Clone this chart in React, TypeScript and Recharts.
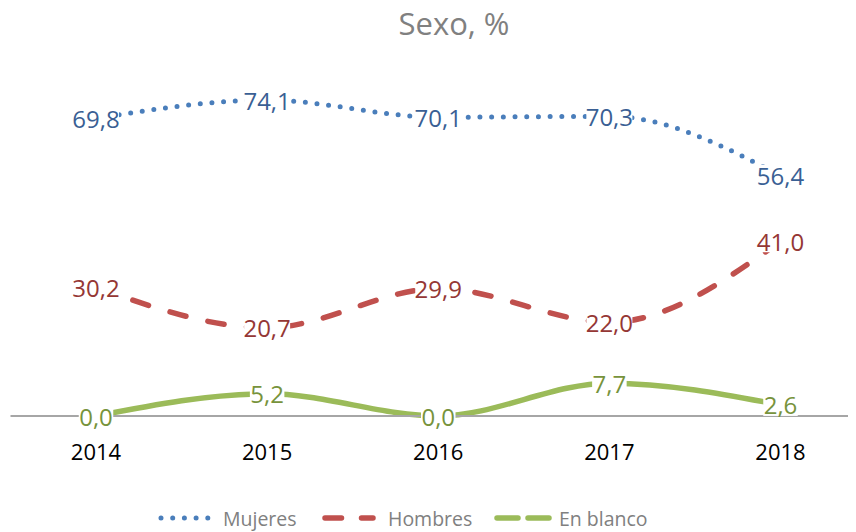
import React from 'react';
import { LineChart, Line, XAxis, YAxis, LabelList } from 'recharts';

const years = ['2014', '2015', '2016', '2017', '2018'];
const mujeres = [69.8, 74.1, 70.1, 70.3, 56.4];
const hombres = [30.2, 20.7, 29.9, 22.0, 41.0];
const enBlanco = [0.0, 5.2, 0.0, 7.7, 2.6];

const data = years.map((y, i) => ({ year: y, mujeres: mujeres[i], hombres: hombres[i], enBlanco: enBlanco[i] }));

const FONT = '"Open Sans", "Noto Sans", sans-serif';
const fmt = (v: number) => v.toFixed(1).replace('.', ',');

const makeLabel = (color: string) => (props: any) => {
  const { x, y, value } = props;
  if (x == null || y == null) return null;
  const t = fmt(Number(value));
  const w = t.length * 11.5;
  return (
    <g>
      <rect x={x - w / 2} y={y - 11} width={w} height={22} fill="#ffffff" />
      <text x={x} y={y} textAnchor="middle" dominantBaseline="central" fill={color} fontSize={24} fontFamily={FONT}>
        {t}
      </text>
    </g>
  );
};

const Tick = (props: any) => {
  const { x, y, payload } = props;
  return (
    <text x={x} y={y} dy={0} textAnchor="middle" fill="#000" fontSize={22} fontFamily={FONT}>
      {payload.value}
    </text>
  );
};

export default function App() {
  return (
    <div style={{ position: 'relative', width: 848, height: 524, fontFamily: FONT }}>
      <div style={{ position: 'absolute', left: 0, top: 0, width: 848, height: 524, overflow: 'hidden' }}>
        <div style={{ position: 'absolute', left: 0, top: 50 }}>
          <LineChart width={860} height={410} data={data} margin={{ top: 17, right: 2, left: 2.5, bottom: 22 }}>
            <YAxis hide domain={[0, 80]} />
            <XAxis
              dataKey="year"
              padding={{ left: 85.5, right: 85.5 }}
              axisLine={{ stroke: '#A6A6A6', strokeWidth: 2 }}
              tickLine={false}
              tickSize={0}
              tickMargin={0}
              height={30}
              tick={(p: any) => <Tick {...p} y={p.y + 44} />}
            />
            <Line type="monotone" dataKey="mujeres" stroke="#4A7EBB" strokeWidth={5} strokeDasharray="0 11.7" strokeLinecap="round" dot={false} isAnimationActive={false}>
              <LabelList dataKey="mujeres" content={makeLabel('#3A5F94')} />
            </Line>
            <Line type="monotone" dataKey="hombres" stroke="#C0504D" strokeWidth={5.5} strokeDasharray="16.5 22.5" strokeLinecap="round" dot={false} isAnimationActive={false}>
              <LabelList dataKey="hombres" content={makeLabel('#953735')} />
            </Line>
            <Line type="monotone" dataKey="enBlanco" stroke="#9BBB59" strokeWidth={5.5} dot={false} isAnimationActive={false}>
              <LabelList dataKey="enBlanco" content={makeLabel('#77933C')} />
            </Line>
          </LineChart>
        </div>
      </div>
      <svg width={856} height={56} style={{ position: 'absolute', left: -8, top: -8 }}>
        <text x={454} y={35} textAnchor="middle" fill="#808080" fontSize={31} fontFamily={FONT}>
          Sexo, %
        </text>
      </svg>
      {/* legend */}
      <svg width={848} height={30} style={{ position: 'absolute', left: 0, top: 494 }}>
        <line x1={153} y1={16} x2={204} y2={16} stroke="#4A7EBB" strokeWidth={5} strokeDasharray="0 11.7" strokeLinecap="round" />
        <text x={215} y={16} dominantBaseline="central" fill="#808080" fontSize={19.5} fontFamily={FONT}>Mujeres</text>
        <line x1={317} y1={16} x2={365} y2={16} stroke="#C0504D" strokeWidth={5.5} strokeDasharray="16.5 20" strokeLinecap="round" />
        <text x={380} y={16} dominantBaseline="central" fill="#808080" fontSize={19.5} fontFamily={FONT}>Hombres</text>
        <line x1={489} y1={16} x2={545} y2={16} stroke="#9BBB59" strokeWidth={5.5} strokeDasharray="21 10" strokeLinecap="round" />
        <text x={551} y={16} dominantBaseline="central" fill="#808080" fontSize={19.5} fontFamily={FONT}>En blanco</text>
      </svg>
    </div>
  );
}
